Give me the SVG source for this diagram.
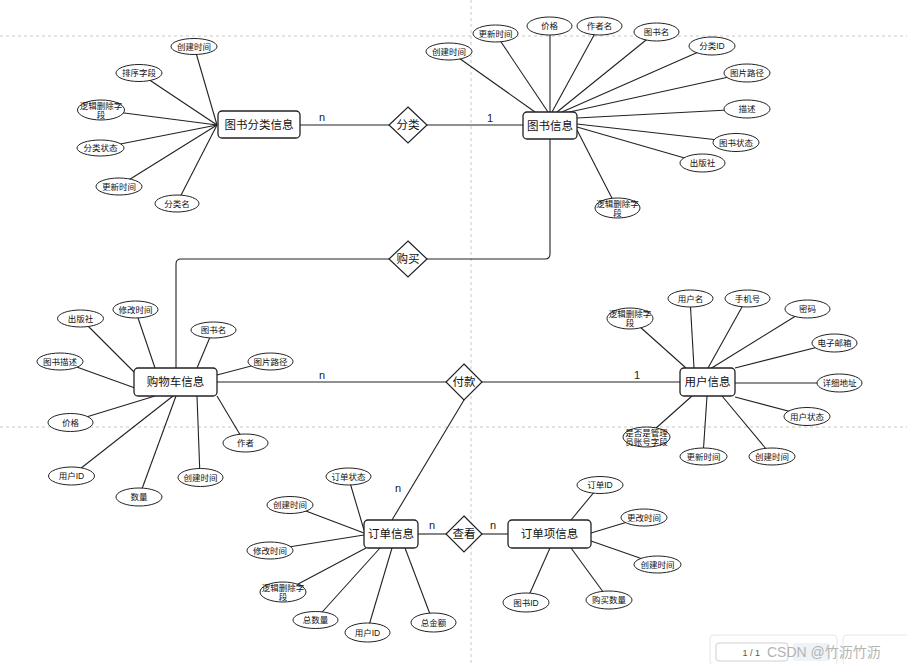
<svg xmlns="http://www.w3.org/2000/svg" width="907" height="664" viewBox="0 0 907 664">
<style>
.bg{fill:#fff}
.guide{stroke:#c8c8c8;stroke-width:1;stroke-dasharray:3,3;fill:none}
.conn line,.conn path{stroke:#222;stroke-width:1.1;fill:none}
.ent rect{fill:#fff;stroke:#222;stroke-width:1.3}
.ent text{font-family:"Liberation Sans","Noto Sans CJK SC",sans-serif;font-size:11.5px;fill:#111;text-anchor:middle;dominant-baseline:central}
.rel polygon{fill:#fff;stroke:#222;stroke-width:1.2}
.rel text{font-family:"Liberation Sans","Noto Sans CJK SC",sans-serif;font-size:11.5px;fill:#111;text-anchor:middle;dominant-baseline:central}
.att ellipse{fill:#fff;stroke:#222;stroke-width:1}
.att text{font-family:"Liberation Sans","Noto Sans CJK SC",sans-serif;font-size:8.5px;fill:#111;text-anchor:middle;dominant-baseline:central}
.card{font-family:"Liberation Sans","Noto Sans CJK SC",sans-serif;font-size:11px;fill:#222;text-anchor:middle}
</style>
<rect class="bg" x="0" y="0" width="907" height="664"/>
<g id="guides">
<line class="guide" x1="0" y1="36" x2="907" y2="36"/>
<line class="guide" x1="0" y1="427" x2="907" y2="427"/>
<line class="guide" x1="471" y1="0" x2="471" y2="664"/>
</g>
<g id="connectors" class="conn">
<!-- relationships -->
<line x1="300" y1="125" x2="390" y2="125"/>
<line x1="427" y1="125" x2="523" y2="125"/>
<path d="M550,139 V254 Q550,259 545,259 H427"/>
<path d="M390,259 H181 Q176,259 176,264 V368"/>
<line x1="217" y1="382" x2="446" y2="382"/>
<line x1="482" y1="382" x2="680" y2="382"/>
<line x1="464" y1="400" x2="392" y2="520"/>
<line x1="418" y1="534" x2="446" y2="534"/>
<line x1="482" y1="534" x2="508" y2="534"/>
<!-- 图书分类信息 attributes -->
<line x1="194" y1="46" x2="217" y2="125"/>
<line x1="139" y1="73" x2="217" y2="125"/>
<line x1="101" y1="110" x2="217" y2="125"/>
<line x1="100" y1="148" x2="217" y2="125"/>
<line x1="119" y1="186" x2="217" y2="125"/>
<line x1="177" y1="203" x2="217" y2="125"/>
<!-- 图书信息 attributes -->
<line x1="449" y1="51" x2="535" y2="112"/>
<line x1="495" y1="33" x2="548" y2="112"/>
<line x1="550" y1="26" x2="550" y2="112"/>
<line x1="599" y1="26" x2="552" y2="112"/>
<line x1="656" y1="32" x2="557" y2="112"/>
<line x1="712" y1="46" x2="562" y2="112"/>
<line x1="747" y1="73" x2="565" y2="113"/>
<line x1="747" y1="109" x2="577" y2="118"/>
<line x1="736" y1="142" x2="577" y2="124"/>
<line x1="702" y1="163" x2="577" y2="127"/>
<line x1="617" y1="208" x2="577" y2="130"/>
<!-- 购物车信息 attributes -->
<line x1="80" y1="318" x2="135" y2="373"/>
<line x1="135" y1="309" x2="155" y2="368"/>
<line x1="213" y1="330" x2="197" y2="368"/>
<line x1="60" y1="361" x2="135" y2="388"/>
<line x1="270" y1="361" x2="217" y2="375"/>
<line x1="70" y1="422" x2="155" y2="396"/>
<line x1="245" y1="443" x2="217" y2="396"/>
<line x1="71" y1="476" x2="173" y2="396"/>
<line x1="139" y1="497" x2="176" y2="396"/>
<line x1="200" y1="477" x2="197" y2="396"/>
<!-- 用户信息 attributes -->
<line x1="690" y1="298" x2="694" y2="368"/>
<line x1="747" y1="298" x2="708" y2="368"/>
<line x1="630" y1="318" x2="686" y2="368"/>
<line x1="807" y1="309" x2="710" y2="369"/>
<line x1="834" y1="343" x2="735" y2="368"/>
<line x1="839" y1="383" x2="735" y2="383"/>
<line x1="807" y1="416" x2="735" y2="397"/>
<line x1="646" y1="437" x2="692" y2="396"/>
<line x1="703" y1="456" x2="707" y2="396"/>
<line x1="772" y1="456" x2="722" y2="396"/>
<!-- 订单信息 attributes -->
<line x1="348" y1="476" x2="364" y2="530"/>
<line x1="290" y1="505" x2="364" y2="533"/>
<line x1="270" y1="550" x2="364" y2="535"/>
<line x1="283" y1="592" x2="366" y2="548"/>
<line x1="315" y1="620" x2="380" y2="548"/>
<line x1="367" y1="632" x2="392" y2="548"/>
<line x1="433" y1="622" x2="405" y2="548"/>
<!-- 订单项信息 attributes -->
<line x1="600" y1="485" x2="571" y2="520"/>
<line x1="644" y1="517" x2="591" y2="533"/>
<line x1="657" y1="564" x2="591" y2="541"/>
<line x1="609" y1="600" x2="571" y2="548"/>
<line x1="526" y1="602" x2="550" y2="548"/>
<!-- cardinalities -->
<text class="card" x="322" y="121">n</text>
<text class="card" x="490" y="122">1</text>
<text class="card" x="322" y="379">n</text>
<text class="card" x="637" y="379">1</text>
<text class="card" x="398" y="492">n</text>
<text class="card" x="432" y="529">n</text>
<text class="card" x="493" y="529">n</text>
</g>
<!-- relationships -->
<g id="rel-fenlei" class="rel"><polygon points="408,107 427,125 408,143 389,125"/><text x="408" y="125">分类</text></g>
<g id="rel-goumai" class="rel"><polygon points="408,241 427,259 408,277 389,259"/><text x="408" y="259">购买</text></g>
<g id="rel-fukuan" class="rel"><polygon points="464,364 482,382 464,400 446,382"/><text x="464" y="382">付款</text></g>
<g id="rel-chakan" class="rel"><polygon points="464,516 482,534 464,552 446,534"/><text x="464" y="534">查看</text></g>
<!-- entities -->
<g id="ent-category" class="ent"><rect x="218" y="111" width="82" height="27" rx="4"/><text x="259" y="124.5">图书分类信息</text></g>
<g id="ent-book" class="ent"><rect x="523" y="112" width="54" height="27" rx="4"/><text x="550" y="125.5">图书信息</text></g>
<g id="ent-cart" class="ent"><rect x="134" y="368" width="83" height="28" rx="4"/><text x="175.5" y="382">购物车信息</text></g>
<g id="ent-user" class="ent"><rect x="680" y="368" width="55" height="28" rx="4"/><text x="707.5" y="382">用户信息</text></g>
<g id="ent-order" class="ent"><rect x="364" y="520" width="54" height="28" rx="4"/><text x="391" y="534">订单信息</text></g>
<g id="ent-orderitem" class="ent"><rect x="508" y="520" width="83" height="28" rx="4"/><text x="549.5" y="534">订单项信息</text></g>
<!-- 图书分类信息 attributes -->
<g id="a-cat-ctime" class="att"><ellipse cx="194" cy="46.5" rx="23" ry="8"/><text x="194" y="46.5">创建时间</text></g>
<g id="a-cat-sort" class="att"><ellipse cx="139" cy="73" rx="23" ry="8.5"/><text x="139" y="73">排序字段</text></g>
<g id="a-cat-del" class="att"><ellipse cx="101" cy="110" rx="23.5" ry="10"/><text x="101" y="105.5">逻辑删除字</text><text x="101" y="114.5">段</text></g>
<g id="a-cat-status" class="att"><ellipse cx="100.5" cy="148" rx="23.5" ry="8"/><text x="100.5" y="148">分类状态</text></g>
<g id="a-cat-utime" class="att"><ellipse cx="119" cy="186.5" rx="23" ry="8.5"/><text x="119" y="186.5">更新时间</text></g>
<g id="a-cat-name" class="att"><ellipse cx="177" cy="203.5" rx="22" ry="8.5"/><text x="177" y="203.5">分类名</text></g>
<!-- 图书信息 attributes -->
<g id="a-book-ctime" class="att"><ellipse cx="449" cy="51.5" rx="23" ry="8.5"/><text x="449" y="51.5">创建时间</text></g>
<g id="a-book-utime" class="att"><ellipse cx="495.5" cy="33.5" rx="22.5" ry="8.5"/><text x="495.5" y="33.5">更新时间</text></g>
<g id="a-book-price" class="att"><ellipse cx="549.5" cy="26" rx="22.5" ry="9"/><text x="549.5" y="26">价格</text></g>
<g id="a-book-author" class="att"><ellipse cx="599.5" cy="26" rx="22.5" ry="9"/><text x="599.5" y="26">作者名</text></g>
<g id="a-book-name" class="att"><ellipse cx="656.5" cy="32" rx="22.5" ry="9"/><text x="656.5" y="32">图书名</text></g>
<g id="a-book-catid" class="att"><ellipse cx="712" cy="46" rx="23" ry="9"/><text x="712" y="46">分类ID</text></g>
<g id="a-book-img" class="att"><ellipse cx="747" cy="73" rx="23" ry="9"/><text x="747" y="73">图片路径</text></g>
<g id="a-book-desc" class="att"><ellipse cx="747" cy="109" rx="23" ry="9"/><text x="747" y="109">描述</text></g>
<g id="a-book-status" class="att"><ellipse cx="736" cy="142.5" rx="23" ry="9"/><text x="736" y="142.5">图书状态</text></g>
<g id="a-book-pub" class="att"><ellipse cx="702.5" cy="163" rx="22.5" ry="9"/><text x="702.5" y="163">出版社</text></g>
<g id="a-book-del" class="att"><ellipse cx="617.5" cy="208" rx="22.5" ry="10"/><text x="617.5" y="203.5">逻辑删除字</text><text x="617.5" y="212.5">段</text></g>
<!-- 购物车信息 attributes -->
<g id="a-cart-pub" class="att"><ellipse cx="80.5" cy="318.5" rx="23" ry="8.5"/><text x="80.5" y="318.5">出版社</text></g>
<g id="a-cart-mtime" class="att"><ellipse cx="135.5" cy="309.5" rx="22.5" ry="8.5"/><text x="135.5" y="309.5">修改时间</text></g>
<g id="a-cart-name" class="att"><ellipse cx="213.5" cy="330" rx="22.5" ry="8"/><text x="213.5" y="330">图书名</text></g>
<g id="a-cart-desc" class="att"><ellipse cx="60" cy="361.5" rx="23" ry="8.5"/><text x="60" y="361.5">图书描述</text></g>
<g id="a-cart-img" class="att"><ellipse cx="270.5" cy="361.5" rx="22.5" ry="8.5"/><text x="270.5" y="361.5">图片路径</text></g>
<g id="a-cart-price" class="att"><ellipse cx="70.5" cy="422.5" rx="22.5" ry="9"/><text x="70.5" y="422.5">价格</text></g>
<g id="a-cart-author" class="att"><ellipse cx="245.5" cy="443" rx="22.5" ry="9"/><text x="245.5" y="443">作者</text></g>
<g id="a-cart-uid" class="att"><ellipse cx="71.5" cy="476" rx="23" ry="9"/><text x="71.5" y="476">用户ID</text></g>
<g id="a-cart-qty" class="att"><ellipse cx="139" cy="497" rx="23" ry="9"/><text x="139" y="497">数量</text></g>
<g id="a-cart-ctime" class="att"><ellipse cx="200.5" cy="477.5" rx="22.5" ry="9"/><text x="200.5" y="477.5">创建时间</text></g>
<!-- 用户信息 attributes -->
<g id="a-user-name" class="att"><ellipse cx="690.5" cy="298.5" rx="22.5" ry="8.5"/><text x="690.5" y="298.5">用户名</text></g>
<g id="a-user-phone" class="att"><ellipse cx="747.5" cy="298.5" rx="22.5" ry="8.5"/><text x="747.5" y="298.5">手机号</text></g>
<g id="a-user-del" class="att"><ellipse cx="630" cy="318.5" rx="23" ry="10.5"/><text x="630" y="314">逻辑删除字</text><text x="630" y="323">段</text></g>
<g id="a-user-pwd" class="att"><ellipse cx="807.5" cy="309" rx="22.5" ry="9"/><text x="807.5" y="309">密码</text></g>
<g id="a-user-email" class="att"><ellipse cx="834.5" cy="343" rx="22.5" ry="9"/><text x="834.5" y="343">电子邮箱</text></g>
<g id="a-user-addr" class="att"><ellipse cx="839.5" cy="383" rx="22.5" ry="9"/><text x="839.5" y="383">详细地址</text></g>
<g id="a-user-status" class="att"><ellipse cx="807" cy="416.5" rx="23" ry="9"/><text x="807" y="416.5">用户状态</text></g>
<g id="a-user-admin" class="att"><ellipse cx="646.5" cy="437" rx="23.5" ry="10"/><text x="646.5" y="432.5">是否是管理</text><text x="646.5" y="441.5">员账号字段</text></g>
<g id="a-user-utime" class="att"><ellipse cx="703.5" cy="456.5" rx="23.5" ry="8.5"/><text x="703.5" y="456.5">更新时间</text></g>
<g id="a-user-ctime" class="att"><ellipse cx="772" cy="456.5" rx="23" ry="8.5"/><text x="772" y="456.5">创建时间</text></g>
<!-- 订单信息 attributes -->
<g id="a-order-status" class="att"><ellipse cx="348.5" cy="476.5" rx="22.5" ry="8.5"/><text x="348.5" y="476.5">订单状态</text></g>
<g id="a-order-ctime" class="att"><ellipse cx="290" cy="505" rx="23" ry="8.5"/><text x="290" y="505">创建时间</text></g>
<g id="a-order-mtime" class="att"><ellipse cx="270" cy="550.5" rx="23" ry="8.5"/><text x="270" y="550.5">修改时间</text></g>
<g id="a-order-del" class="att"><ellipse cx="283" cy="592" rx="23" ry="10"/><text x="283" y="587.5">逻辑删除字</text><text x="283" y="596.5">段</text></g>
<g id="a-order-qty" class="att"><ellipse cx="315.5" cy="620" rx="22.5" ry="8.5"/><text x="315.5" y="620">总数量</text></g>
<g id="a-order-uid" class="att"><ellipse cx="367.5" cy="632.5" rx="22.5" ry="9.5"/><text x="367.5" y="632.5">用户ID</text></g>
<g id="a-order-amt" class="att"><ellipse cx="433.5" cy="622.5" rx="22.5" ry="9.5"/><text x="433.5" y="622.5">总金额</text></g>
<!-- 订单项信息 attributes -->
<g id="a-item-oid" class="att"><ellipse cx="600" cy="485" rx="23" ry="8.5"/><text x="600" y="485">订单ID</text></g>
<g id="a-item-mtime" class="att"><ellipse cx="644" cy="517.5" rx="23" ry="8.5"/><text x="644" y="517.5">更改时间</text></g>
<g id="a-item-ctime" class="att"><ellipse cx="657.5" cy="564.5" rx="23.5" ry="8.5"/><text x="657.5" y="564.5">创建时间</text></g>
<g id="a-item-qty" class="att"><ellipse cx="609" cy="600" rx="23" ry="9"/><text x="609" y="600">购买数量</text></g>
<g id="a-item-bid" class="att"><ellipse cx="526" cy="602.5" rx="23" ry="9.5"/><text x="526" y="602.5">图书ID</text></g>
<!-- viewer toolbar and watermark -->
<g id="toolbar">
<rect x="710" y="635" width="127" height="30" rx="4" fill="#fff" stroke="#e6e6e6"/>
<rect x="716" y="643" width="72" height="18" rx="3" fill="#fff" stroke="#cfcfcf"/>
<rect x="793" y="643" width="37" height="18" rx="2" fill="#eef3f8"/>
<rect x="843" y="635" width="70" height="30" rx="4" fill="#fff" stroke="#e6e6e6"/>
<text x="760" y="656" font-family="'Liberation Sans',sans-serif" font-size="9px" fill="#555" text-anchor="end">1 / 1</text>
<text x="767" y="657" font-family="'Liberation Sans','Noto Sans CJK SC',sans-serif" font-size="14px" fill="#b4b4b4">CSDN @竹沥竹沥</text>
</g>
</svg>
